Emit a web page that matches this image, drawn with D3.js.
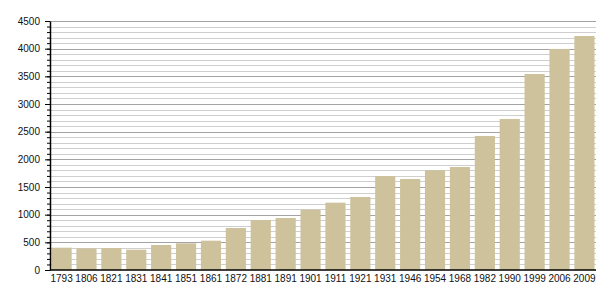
<!DOCTYPE html>
<html>
<head>
<meta charset="utf-8">
<script src="https://cdn.jsdelivr.net/npm/d3@7"></script>
<style>
  body { margin: 0; background: #fff; }
  text { font-family: "Liberation Sans", Arial, sans-serif; }
</style>
</head>
<body>
<div id="chart"></div>
<script>
const years = ["1793","1806","1821","1831","1841","1851","1861","1872","1881","1891","1901","1911","1921","1931","1946","1954","1968","1982","1990","1999","2006","2009"];
const population = [403, 392, 397, 367, 452, 482, 530, 759, 904, 940, 1090, 1217, 1319, 1699, 1645, 1802, 1861, 2422, 2729, 3542, 3995, 4229];
const yTicks = [0, 500, 1000, 1500, 2000, 2500, 3000, 3500, 4000, 4500];

const width = 605,
  height = 300,
  margin = { top: 21, right: 9, bottom: 30, left: 50 };

const svg = d3.select("#chart")
  .append("svg")
  .attr("width", width)
  .attr("height", height);

const x = d3.scaleBand()
  .domain(years)
  .range([margin.left, width - margin.right])
  .paddingInner(0.19)
  .paddingOuter(0.06);

const y = d3.scaleLinear()
  .domain([0, 4500])
  .range([height - margin.bottom, margin.top]);

// minor grid every 100, major every 500
svg.append("g")
  .selectAll("line")
  .data(d3.range(100, 4501, 100))
  .enter()
  .append("line")
  .attr("x1", margin.left)
  .attr("x2", width - margin.right)
  .attr("y1", d => Math.round(y(d)) + 0.5)
  .attr("y2", d => Math.round(y(d)) + 0.5)
  .attr("stroke", d => d % 500 === 0 ? "#a3a3a3" : "#cfcfcf")
  .attr("stroke-width", 1);

svg.append("g")
  .selectAll("rect")
  .data(population)
  .enter()
  .append("rect")
  .attr("x", (d, i) => x(years[i]))
  .attr("y", d => y(d))
  .attr("width", x.bandwidth())
  .attr("height", d => y(0) - y(d))
  .attr("fill", "#cdc29c");

// minor ticks on y axis
svg.append("g")
  .attr("transform", `translate(${margin.left},0)`)
  .call(d3.axisLeft(y).tickValues(d3.range(0, 4501, 100)).tickSize(3).tickFormat(""))
  .call(g => g.select(".domain").remove())
  .selectAll("line").attr("stroke", "#000");

const yAxis = svg.append("g")
  .attr("transform", `translate(${margin.left},0)`)
  .call(d3.axisLeft(y).tickValues(yTicks).tickFormat(d3.format("d")).tickSize(5).tickPadding(5).tickSizeOuter(0));
yAxis.select(".domain").attr("stroke", "#000").attr("stroke-width", 1.5);
yAxis.selectAll("text").style("font-size", "10px").attr("fill", "#111");

const xAxis = svg.append("g")
  .attr("transform", `translate(0,${height - margin.bottom})`)
  .call(d3.axisBottom(x).tickSize(0).tickPadding(5));
xAxis.select(".domain")
  .attr("d", `M${margin.left},0H${width - margin.right}`)
  .attr("stroke", "#000").attr("stroke-width", 1.5);
xAxis.selectAll("text").style("font-size", "10px").attr("fill", "#111");
</script>
</body>
</html>
